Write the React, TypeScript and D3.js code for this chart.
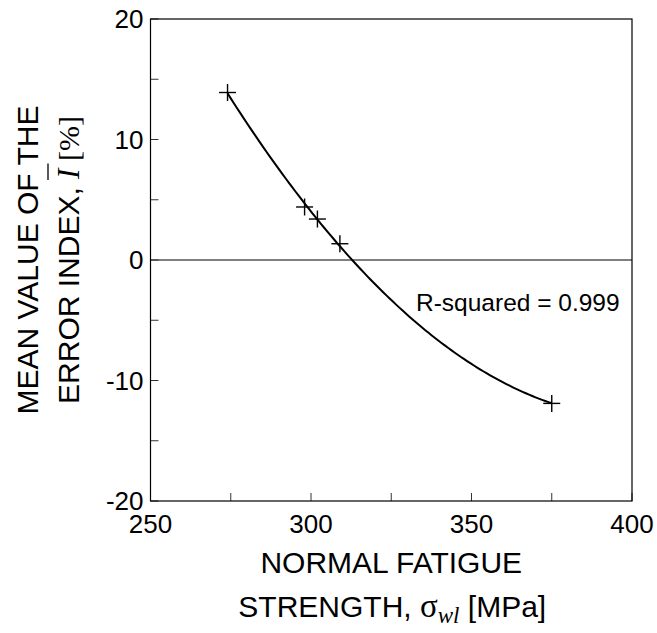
import React, { useLayoutEffect, useRef, useState } from "react";
import * as d3 from "d3";

const xValues = [274, 298, 302, 309, 375];
const yValues = [13.9, 4.4, 3.4, 1.35, -11.9];
const xTicks = [250, 275, 300, 325, 350, 375, 400];
const xTickLabels = [250, 300, 350, 400];
const yTicks = [-20, -15, -10, -5, 0, 5, 10, 15, 20];
const yTickLabels = [-20, -10, 0, 10, 20];
const rSquaredLabel = "R-squared = 0.999";
const yTitlePrefix = "ERROR INDEX, ";

const W = 657;
const H = 633;
const left = 150.5;
const right = 632;
const top = 19;
const bottom = 501;

const SANS = "'Liberation Sans', Arial, Helvetica, sans-serif";
const SERIF = "'Liberation Serif', 'Times New Roman', serif";

// least squares quadratic fit from the data points
function quadFit(xs: number[], ys: number[]) {
  const mx = d3.mean(xs) as number;
  const u = xs.map((x) => x - mx);
  const s = (p: number) => d3.sum(u, (v) => Math.pow(v, p));
  const t = (p: number) => d3.sum(u, (v, i) => Math.pow(v, p) * ys[i]);
  const A = [
    [s(0), s(1), s(2), t(0)],
    [s(1), s(2), s(3), t(1)],
    [s(2), s(3), s(4), t(2)],
  ];
  for (let i = 0; i < 3; i++) {
    for (let k = i + 1; k < 3; k++) {
      const f = A[k][i] / A[i][i];
      for (let j = i; j < 4; j++) A[k][j] -= f * A[i][j];
    }
  }
  const c = [0, 0, 0];
  for (let i = 2; i >= 0; i--) {
    let v = A[i][3];
    for (let j = i + 1; j < 3; j++) v -= A[i][j] * c[j];
    c[i] = v / A[i][i];
  }
  return (x: number) => c[0] + c[1] * (x - mx) + c[2] * (x - mx) * (x - mx);
}

export default function App() {
  const x = d3.scaleLinear().domain([250, 400]).range([left, right]);
  const y = d3.scaleLinear().domain([-20, 20]).range([bottom, top]);
  const f = quadFit(xValues, yValues);
  const xMin = d3.min(xValues) as number;
  const xMax = d3.max(xValues) as number;
  const curvePts = d3.range(0, 101).map((i) => {
    const xv = xMin + ((xMax - xMin) * i) / 100;
    return [x(xv), y(f(xv))] as [number, number];
  });
  const line = d3.line()(curvePts) || "";
  const tickLen = 8;
  const ps = 8.5;

  const titleRef = useRef<SVGTextElement>(null);
  const [bar, setBar] = useState<{ x1: number; x2: number } | null>(null);
  useLayoutEffect(() => {
    const el = titleRef.current;
    if (!el) return;
    try {
      const ext = el.getExtentOfChar(yTitlePrefix.length);
      setBar({ x1: ext.x - 1, x2: ext.x + ext.width + 5 });
    } catch (e) {
      /* ignore */
    }
  }, []);

  return (
    <svg
      width={W}
      height={H}
      style={{ position: "absolute", left: 0, top: 0, background: "#fff" }}
    >
      <rect x={0} y={0} width={W} height={H} fill="#fff" />
      {/* zero line */}
      <line x1={left} x2={right} y1={y(0)} y2={y(0)} stroke="#000" strokeWidth={1} />
      {/* ticks */}
      {yTicks.map((t) => (
        <line key={"yt" + t} x1={left} x2={left + tickLen} y1={y(t)} y2={y(t)} stroke="#333" strokeWidth={1} />
      ))}
      {xTicks.map((t) => (
        <line key={"xt" + t} x1={x(t)} x2={x(t)} y1={bottom} y2={bottom - tickLen} stroke="#333" strokeWidth={1} />
      ))}
      {/* frame */}
      <rect x={left} y={top} width={right - left} height={bottom - top} fill="none" stroke="#000" strokeWidth={1.2} />
      {/* fit curve */}
      <path d={line} fill="none" stroke="#000" strokeWidth={2} />
      {/* markers */}
      {xValues.map((xv, i) => (
        <g key={"p" + i} stroke="#000" strokeWidth={1.4}>
          <line x1={x(xv) - ps} x2={x(xv) + ps} y1={y(yValues[i])} y2={y(yValues[i])} />
          <line x1={x(xv)} x2={x(xv)} y1={y(yValues[i]) - ps} y2={y(yValues[i]) + ps} />
        </g>
      ))}
      {/* tick labels */}
      {yTickLabels.map((t) => (
        <text key={"yl" + t} x={143.5} y={y(t) + 9} textAnchor="end" fontFamily={SANS} fontSize={26} fill="#000">
          {t}
        </text>
      ))}
      {xTickLabels.map((t) => (
        <text key={"xl" + t} x={x(t)} y={533} textAnchor="middle" fontFamily={SANS} fontSize={26} fill="#000">
          {t}
        </text>
      ))}
      {/* R-squared */}
      <text x={416} y={311} fontFamily={SANS} fontSize={24.5} fill="#000">
        {rSquaredLabel}
      </text>
      {/* x title */}
      <text x={(left + right) / 2} y={573} textAnchor="middle" fontFamily={SANS} fontSize={30} fill="#000">
        NORMAL FATIGUE
      </text>
      <text x={(left + right) / 2 + 1} y={617} textAnchor="middle" fontFamily={SANS} fontSize={30} fill="#000">
        <tspan>STRENGTH, </tspan>
        <tspan fontFamily={SERIF} fontSize={33}>σ</tspan>
        <tspan fontFamily={SERIF} fontStyle="italic" fontSize={23} dy={6}>wl</tspan>
        <tspan dy={-6}> [MPa]</tspan>
      </text>
      {/* y title */}
      <text transform={`translate(38,${(top + bottom) / 2}) rotate(-90)`} textAnchor="middle" fontFamily={SANS} fontSize={30} fill="#000">
        MEAN VALUE OF THE
      </text>
      <g transform={`translate(79,${(top + bottom) / 2}) rotate(-90)`}>
        <text ref={titleRef} x={0} y={0} textAnchor="middle" fontFamily={SANS} fontSize={30} fill="#000">
          <tspan>{yTitlePrefix}</tspan>
          <tspan fontFamily={SERIF} fontStyle="italic" fontSize={31}>I</tspan>
          <tspan fontFamily={SERIF} fontSize={30}> [%]</tspan>
        </text>
        {bar && (
          <line x1={bar.x1} x2={bar.x2} y1={-31} y2={-31} stroke="#000" strokeWidth={1.3} />
        )}
      </g>
    </svg>
  );
}
